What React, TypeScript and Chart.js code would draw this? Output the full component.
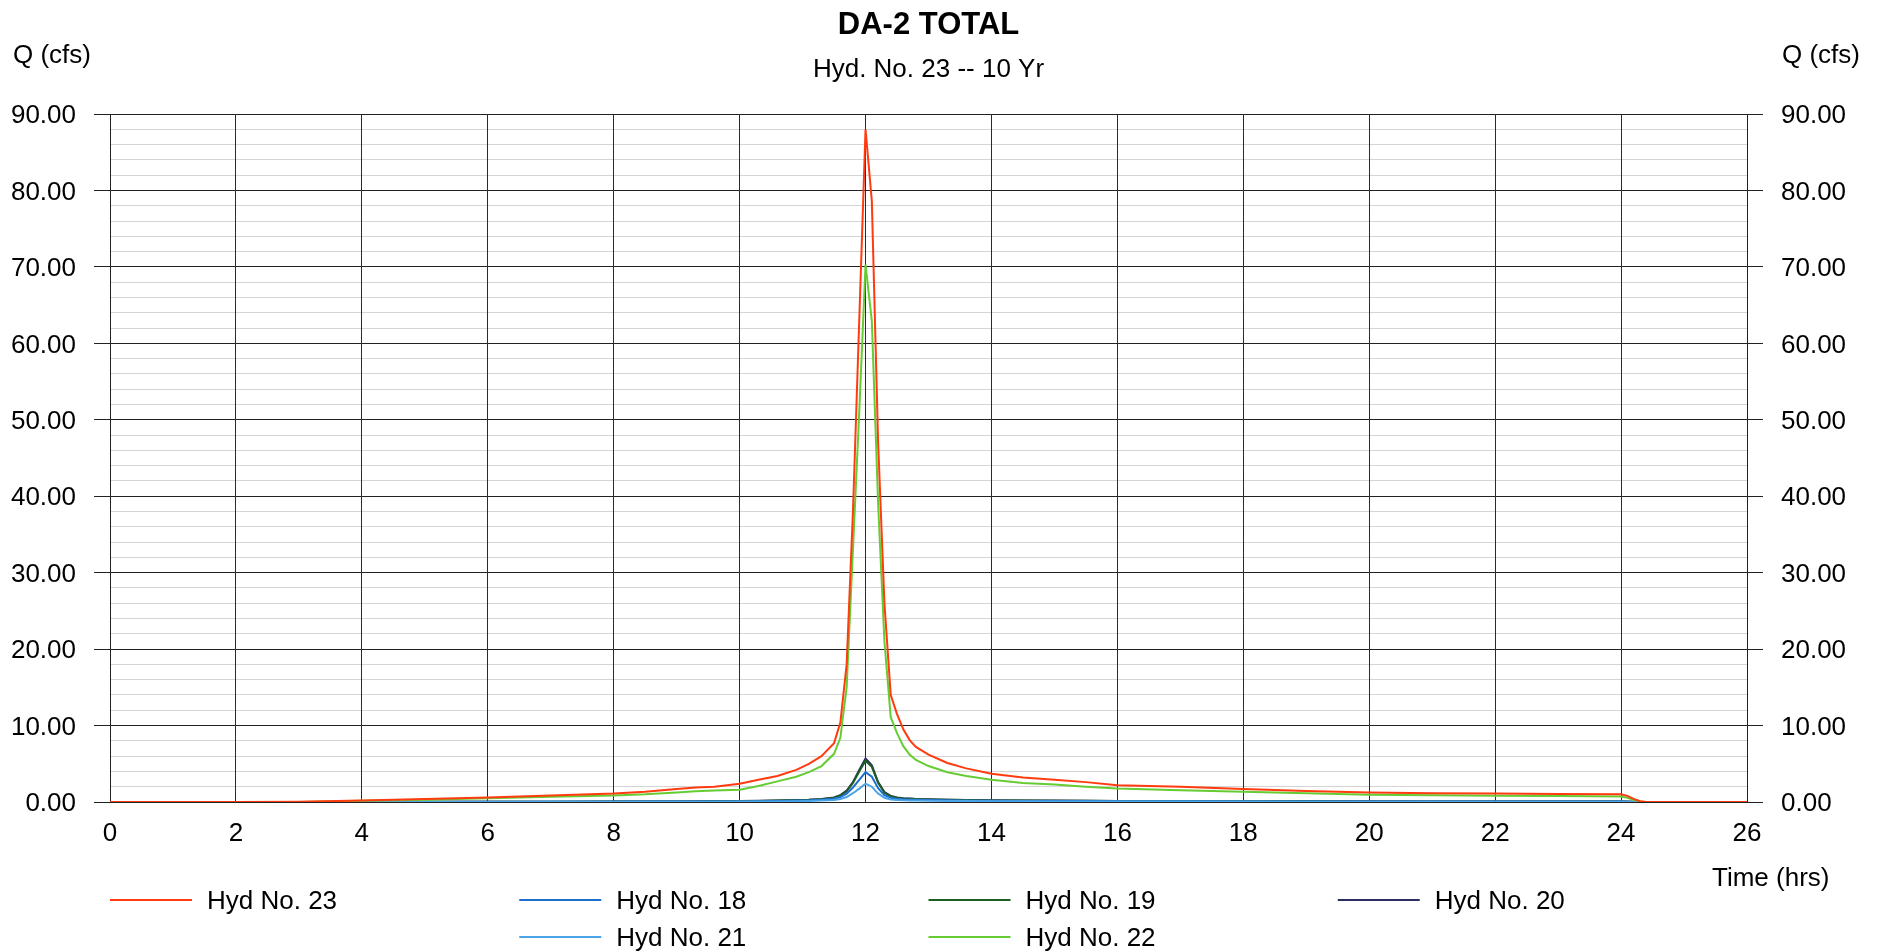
import React, { useEffect, useRef } from "react";
import { Chart, registerables } from "chart.js";

Chart.register(...registerables);

const TITLE = "DA-2 TOTAL";
const SUBTITLE = "Hyd. No. 23 -- 10 Yr";
const Y_TITLE = "Q (cfs)";
const X_TITLE = "Time (hrs)";

const TIMES = [
  0, 1, 2, 3, 4, 5, 6, 7, 8,
  8.5, 9, 9.3, 9.6,
  10, 10.3, 10.6, 10.9,
  11.1, 11.3, 11.5, 11.6, 11.7, 11.8, 11.9,
  12.0, 12.1, 12.2, 12.3, 12.4, 12.5, 12.6, 12.7, 12.8,
  13.0, 13.3, 13.6,
  14.0, 14.5, 15.0, 15.5, 16.0,
  17, 18, 19, 20, 21, 22, 23, 24,
  24.1, 24.2, 24.3, 24.4,
  25, 26,
];

const HYD23 = [
  0, 0, 0, 0.02, 0.2, 0.4, 0.6, 0.85, 1.1,
  1.35, 1.7, 1.9, 2.0,
  2.4, 2.9, 3.4, 4.2,
  5.0, 6.0, 7.7, 10.4, 18, 38, 63,
  88, 78.6, 47, 26, 14, 11.5, 9.5, 8.1, 7.2,
  6.2, 5.1, 4.4,
  3.7, 3.2, 2.9, 2.6, 2.2,
  2.0, 1.7, 1.45, 1.25, 1.15, 1.1, 1.05, 1.0,
  0.8, 0.4, 0.1, 0,
  0, 0,
];

const HYD22 = [
  0, 0, 0, 0.01, 0.15, 0.3, 0.5, 0.7, 0.85,
  1.0, 1.25, 1.4, 1.5,
  1.6, 2.1, 2.7, 3.3,
  3.9, 4.7, 6.3, 8.4, 15, 33, 51,
  70.3, 62.9, 39, 21, 11.1, 9.0, 7.3, 6.2, 5.5,
  4.7, 3.9, 3.4,
  2.9, 2.5, 2.3, 2.0, 1.75,
  1.55, 1.35, 1.15, 0.95, 0.88, 0.82, 0.78, 0.72,
  0.55, 0.3, 0.05, 0,
  0, 0,
];

const HYD20 = [
  0, 0, 0, 0, 0.01, 0.02, 0.03, 0.04, 0.05,
  0.06, 0.08, 0.09, 0.1,
  0.12, 0.15, 0.2, 0.25,
  0.3, 0.4, 0.6, 0.9, 1.5, 2.6, 4.2,
  5.7, 4.8, 2.6, 1.3, 0.8, 0.6, 0.5, 0.45, 0.4,
  0.35, 0.3, 0.27,
  0.22, 0.2, 0.18, 0.16, 0.14,
  0.12, 0.11, 0.1, 0.09, 0.08, 0.08, 0.07, 0.07,
  0.05, 0.02, 0, 0,
  0, 0,
];

const HYD19 = [
  0, 0, 0, 0, 0.01, 0.02, 0.03, 0.04, 0.05,
  0.06, 0.07, 0.08, 0.09,
  0.11, 0.14, 0.18, 0.23,
  0.28, 0.37, 0.55, 0.85, 1.4, 2.5, 4.0,
  5.4, 4.6, 2.5, 1.2, 0.75, 0.55, 0.47, 0.42, 0.38,
  0.33, 0.28, 0.25,
  0.2, 0.18, 0.16, 0.15, 0.13,
  0.11, 0.1, 0.09, 0.08, 0.08, 0.07, 0.07, 0.06,
  0.04, 0.02, 0, 0,
  0, 0,
];

const HYD18 = [
  0, 0, 0, 0, 0.01, 0.01, 0.02, 0.03, 0.04,
  0.05, 0.06, 0.06, 0.07,
  0.08, 0.1, 0.14, 0.18,
  0.22, 0.3, 0.42, 0.65, 1.1, 1.9, 2.9,
  3.9, 3.3, 1.8, 0.9, 0.55, 0.42, 0.36, 0.32, 0.29,
  0.25, 0.22, 0.19,
  0.16, 0.14, 0.13, 0.12, 0.1,
  0.09, 0.08, 0.07, 0.07, 0.06, 0.06, 0.05, 0.05,
  0.03, 0.01, 0, 0,
  0, 0,
];

const HYD21 = [
  0, 0, 0, 0, 0, 0.01, 0.01, 0.02, 0.02,
  0.03, 0.03, 0.04, 0.04,
  0.05, 0.06, 0.08, 0.1,
  0.13, 0.18, 0.25, 0.38, 0.65, 1.15, 1.75,
  2.4, 2.0, 1.1, 0.55, 0.34, 0.26, 0.22, 0.2, 0.18,
  0.15, 0.13, 0.12,
  0.1, 0.09, 0.08, 0.07, 0.06,
  0.05, 0.05, 0.04, 0.04, 0.04, 0.03, 0.03, 0.03,
  0.02, 0.01, 0, 0,
  0, 0,
];

const SERIES_NAMES = ["Hyd No. 23", "Hyd No. 18", "Hyd No. 19", "Hyd No. 20", "Hyd No. 21", "Hyd No. 22"];
const SERIES_VALUES = [HYD23, HYD18, HYD19, HYD20, HYD21, HYD22];
const SERIES_COLORS = ["#ff3b0f", "#1c6fce", "#1f5e22", "#2b2e63", "#4aa4e6", "#66cc33"];
const SERIES_ORDER = [0, 3, 4, 5, 2, 1];
// legend slot (column, row)
const LEGEND_SLOTS = [[0, 0], [1, 0], [2, 0], [3, 0], [1, 1], [2, 1]];

const FONT = '"Liberation Sans", Arial, Helvetica, sans-serif';

const textPlugin = {
  id: "hydroText",
  afterDraw(chart: any) {
    const { ctx, chartArea } = chart;
    const { left, right, bottom } = chartArea;
    const cx = (left + right) / 2;
    ctx.save();
    ctx.fillStyle = "#000";
    ctx.textBaseline = "middle";
    ctx.textAlign = "center";
    ctx.font = `bold 31px ${FONT}`;
    ctx.fillText(TITLE, cx, 25);
    ctx.font = `26px ${FONT}`;
    ctx.fillText(SUBTITLE, cx, 70);
    ctx.textAlign = "left";
    ctx.fillText(Y_TITLE, 13, 56);
    ctx.fillText(Y_TITLE, right + 35, 56);
    ctx.fillText(X_TITLE, right - 35, bottom + 77);

    const colW = (right - left) / 4;
    SERIES_NAMES.forEach((name, i) => {
      const [c, r] = LEGEND_SLOTS[i];
      const x = left + c * colW;
      const y = bottom + 98 + r * 37;
      ctx.strokeStyle = SERIES_COLORS[i];
      ctx.lineWidth = 2;
      ctx.beginPath();
      ctx.moveTo(x, y);
      ctx.lineTo(x + 82, y);
      ctx.stroke();
      ctx.fillStyle = "#000";
      ctx.fillText(name, x + 97, y + 2);
    });
    ctx.restore();
  },
};

const MAJOR = "#222";
const MINOR = "#d4d4d4";

export default function App() {
  const ref = useRef<HTMLCanvasElement>(null);
  useEffect(() => {
    document.body.style.margin = "0";
    document.body.style.overflow = "hidden";
    if (!ref.current) return;
    const datasets = SERIES_NAMES.map((name, i) => ({
      label: name,
      data: TIMES.map((t, j) => ({ x: t, y: SERIES_VALUES[i][j] })),
      borderColor: SERIES_COLORS[i],
      backgroundColor: SERIES_COLORS[i],
      borderWidth: 2,
      pointRadius: 0,
      tension: 0,
      fill: false,
      order: SERIES_ORDER[i],
    }));
    const yTicks = {
      stepSize: 2,
      autoSkip: false,
      color: "#000",
      font: { family: FONT, size: 26 },
      padding: 18,
      labelOffset: 2,
      callback: (v: any) => (Math.round(v) % 10 === 0 ? Number(v).toFixed(2) : ""),
    };
    const chart = new Chart(ref.current, {
      type: "line",
      data: { datasets },
      plugins: [textPlugin],
      options: {
        animation: false,
        responsive: false,
        devicePixelRatio: 1,
        layout: { padding: { top: 114, left: 0, right: 0, bottom: 0 } },
        plugins: { legend: { display: false }, title: { display: false }, tooltip: { enabled: false } },
        scales: {
          x: {
            type: "linear",
            min: 0,
            max: 26,
            ticks: { stepSize: 2, color: "#000", font: { family: FONT, size: 26 }, padding: 16, maxRotation: 0 },
            grid: { color: "#2a2a2a", drawTicks: false, lineWidth: 1, z: -1 },
            border: { color: MAJOR },
            afterFit: (s: any) => { s.height = 150; },
          },
          y: {
            type: "linear",
            position: "left",
            min: 0,
            max: 90,
            ticks: yTicks,
            grid: {
              color: (c: any) => (Math.round(c.tick.value) % 10 === 0 ? MAJOR : MINOR),
              tickColor: (c: any) => (Math.round(c.tick.value) % 10 === 0 ? MAJOR : "rgba(0,0,0,0)"),
              tickLength: 16,
              lineWidth: 1,
              z: -2,
            },
            border: { color: MAJOR },
            afterFit: (s: any) => { s.width = 110; },
          },
          y2: {
            type: "linear",
            position: "right",
            min: 0,
            max: 90,
            ticks: yTicks,
            grid: {
              drawOnChartArea: false,
              tickColor: (c: any) => (Math.round(c.tick.value) % 10 === 0 ? MAJOR : "rgba(0,0,0,0)"),
              tickLength: 16,
            },
            border: { color: MAJOR },
            afterFit: (s: any) => { s.width = 136; },
          },
        },
      } as any,
    });
    return () => chart.destroy();
  }, []);
  return (
    <div style={{ width: 1883, height: 952, background: "#fff" }}>
      <canvas ref={ref} width={1883} height={952} style={{ display: "block" }} />
    </div>
  );
}
